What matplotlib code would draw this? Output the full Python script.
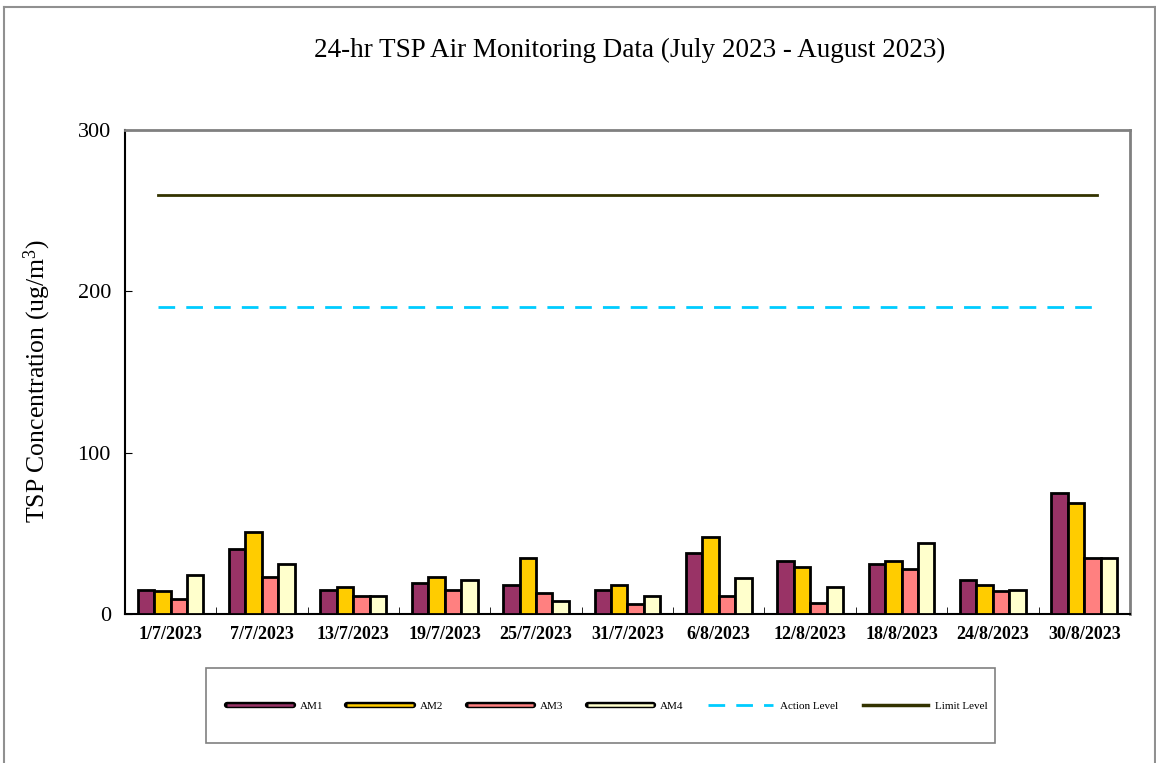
import matplotlib
matplotlib.use("Agg")
import matplotlib.pyplot as plt
from matplotlib.lines import Line2D
from matplotlib.patches import Rectangle
import numpy as np

dates = ["1/7/2023", "7/7/2023", "13/7/2023", "19/7/2023", "25/7/2023", "31/7/2023",
         "6/8/2023", "12/8/2023", "18/8/2023", "24/8/2023", "30/8/2023"]
am1 = [15, 40, 15, 19, 18, 15, 38, 33, 31, 21, 75]
am2 = [14, 51, 17, 23, 35, 18, 48, 29, 33, 18, 69]
am3 = [9, 23, 11, 15, 13, 6, 11, 7, 28, 14, 35]
am4 = [24, 31, 11, 21, 8, 11, 22, 17, 44, 15, 35]
action_level = 190
limit_level = 260

series = [("AM1", am1, "#993366"), ("AM2", am2, "#FFCC00"),
          ("AM3", am3, "#FF8080"), ("AM4", am4, "#FFFFCC")]

plt.rcParams["font.family"] = ["Liberation Serif", "DejaVu Serif"]
plt.rcParams["mathtext.fontset"] = "custom"
plt.rcParams["mathtext.rm"] = "Liberation Serif"
plt.rcParams["mathtext.it"] = "Liberation Serif:italic"

W, H = 1156, 763
fig = plt.figure(figsize=(W / 100, H / 100), dpi=100)
ax = fig.add_axes([0.108, 0.1953, 0.8695, 0.6343])

# outer chart border (left, top, right)
border_kw = dict(color="#909090", lw=1.5, transform=fig.transFigure)
fig.add_artist(Line2D([3.5 / W, 3.5 / W], [0, 1 - 6.5 / H], **border_kw))
fig.add_artist(Line2D([3.5 / W, 1 - 1.5 / W], [1 - 6.5 / H, 1 - 6.5 / H], **border_kw))
fig.add_artist(Line2D([1 - 1.5 / W, 1 - 1.5 / W], [0, 1 - 6.5 / H], **border_kw))

x = np.arange(len(dates))
w = 0.18
for i, (name, vals, col) in enumerate(series):
    ax.bar(x + (i - 1.5) * w, vals, width=w, color=col, edgecolor="black", linewidth=2, zorder=3)

xl = np.array([x[0] - 0.14, x[-1] + 0.14])
ax.plot(xl, [action_level] * 2, color="#00CCFF", lw=2, dashes=(6, 4), zorder=2)
ax.plot(xl, [limit_level] * 2, color="#333300", lw=2, zorder=2)

ax.set_xlim(-0.5, len(dates) - 0.5)
ax.set_ylim(0, 300)
ax.set_yticks([0, 100, 200, 300])
ax.set_yticklabels(["0", "100", "200", "300"], fontsize=16)
ax.yaxis.set_tick_params(direction="in", length=5, pad=10)
ax.set_xticks(x)
ax.set_xticklabels(dates, fontsize=13, fontweight="bold")
ax.xaxis.set_tick_params(length=0, pad=9)
ax.set_xticks(np.arange(len(dates) + 1) - 0.5, minor=True)
ax.xaxis.set_tick_params(which="minor", direction="in", length=5)
for s in ["left", "bottom"]:
    ax.spines[s].set_color("black")
    ax.spines[s].set_linewidth(1.5)
for s in ["top", "right"]:
    ax.spines[s].set_color("#808080")
    ax.spines[s].set_linewidth(2)

fig.text(37 / W, 1 - 381 / H, "TSP Concentration (ug/m$^{3}$)", rotation=90,
         ha="center", va="center", fontsize=18.5)
fig.text(0.545, 0.934, "24-hr TSP Air Monitoring Data (July 2023 - August 2023)",
         ha="center", va="center", fontsize=19.5)

# legend box
fig.patches.append(Rectangle((0.178, 0.026), 0.683, 0.098, transform=fig.transFigure,
                             facecolor="white", edgecolor="#808080", lw=1.2))
handles = []
for name, vals, col in series:
    handles.append((Line2D([], [], color="black", lw=4.6, solid_capstyle="round"),
                    Line2D([], [], color=col, lw=1.8, solid_capstyle="butt")))
handles.append(Line2D([], [], color="#00CCFF", lw=2, dashes=(6, 4)))
handles.append(Line2D([], [], color="#333300", lw=2.5))
labels = ["AM1", "AM2", "AM3", "AM4", "Action Level", "Limit Level"]
fig.legend(handles, labels, loc="center", bbox_to_anchor=(0.5255, 0.075), ncol=6,
           frameon=False, fontsize=8, handlelength=5.9, handletextpad=0.6,
           columnspacing=2.2)

fig.savefig("out.png", dpi=100)
